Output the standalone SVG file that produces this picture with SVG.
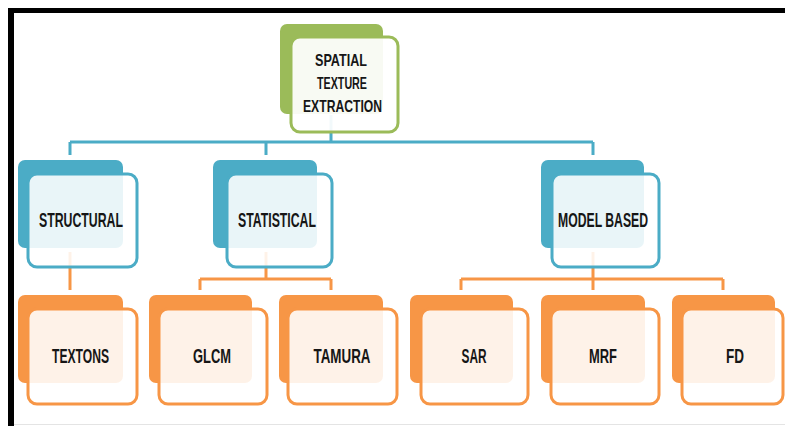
<svg xmlns="http://www.w3.org/2000/svg" width="785" height="426" viewBox="0 0 785 426">
  <style>
    .t { font-family: "Liberation Sans", Arial, sans-serif; font-weight: bold; fill: #161616; text-anchor: middle; }
    .lvl { font-size: 19.5px; }
    .root { font-size: 16.5px; }
    .bb { fill: #4bacc6; }
    .bf { fill: #ffffff; fill-opacity: 0.88; stroke: #4bacc6; stroke-width: 3; }
    .ob { fill: #f79646; }
    .of { fill: #ffffff; fill-opacity: 0.88; stroke: #f79646; stroke-width: 3; }
    .gb { fill: #9bbb59; }
    .gf { fill: #ffffff; fill-opacity: 0.93; stroke: #9bbb59; stroke-width: 3; }
    .cb { fill: none; stroke: #4bacc6; stroke-width: 3; }
    .co { fill: none; stroke: #f79646; stroke-width: 3; }
  </style>
  <rect x="0" y="0" width="785" height="426" fill="#ffffff"/>
  <!-- frame -->
  <rect x="8" y="8" width="777" height="5" fill="#000000"/>
  <rect x="8" y="8" width="6" height="418" fill="#000000"/>
  <line x1="14" y1="424.5" x2="785" y2="424.5" stroke="#e4e4e4" stroke-width="1"/>

  <g id="connectors">
    <path class="cb" d="M331 115 V142 M70 142 H593 M70 142 V155 M266 142 V155 M593 142 V155"/>
    <path class="co" d="M70 252 V290"/>
    <path class="co" d="M266 252 V279 M200 279 H331 M200 279 V290 M331 279 V290"/>
    <path class="co" d="M593 252 V279 M461 279 H723 M461 279 V290 M593 279 V290 M723 279 V290"/>
  </g>

  <g id="root">
    <rect class="gb" x="280" y="24" width="103" height="90" rx="7"/>
    <rect class="gf" x="291" y="37" width="107" height="95" rx="9"/>
    <text class="t root" x="341" y="65.5" textLength="52" lengthAdjust="spacingAndGlyphs">SPATIAL</text>
    <text class="t root" x="342" y="88.5" textLength="50" lengthAdjust="spacingAndGlyphs">TEXTURE</text>
    <text class="t root" x="342.5" y="112" textLength="79" lengthAdjust="spacingAndGlyphs">EXTRACTION</text>
  </g>

  <g id="structural">
    <rect class="bb" x="18" y="160" width="105" height="88" rx="7"/>
    <rect class="bf" x="28" y="174" width="109" height="93" rx="9"/>
    <text class="t lvl" x="81" y="226.5" textLength="84" lengthAdjust="spacingAndGlyphs">STRUCTURAL</text>
  </g>
  <g id="statistical">
    <rect class="bb" x="213" y="160" width="104" height="88" rx="7"/>
    <rect class="bf" x="227" y="174" width="105" height="93" rx="9"/>
    <text class="t lvl" x="277" y="226.5" textLength="78" lengthAdjust="spacingAndGlyphs">STATISTICAL</text>
  </g>
  <g id="model-based">
    <rect class="bb" x="541" y="160" width="103" height="88" rx="7"/>
    <rect class="bf" x="552" y="174" width="107" height="93" rx="9"/>
    <text class="t lvl" x="603" y="226.5" textLength="90" lengthAdjust="spacingAndGlyphs">MODEL BASED</text>
  </g>

  <g id="textons">
    <rect class="ob" x="18" y="295" width="105" height="88" rx="7"/>
    <rect class="of" x="28" y="309" width="109" height="95" rx="9"/>
    <text class="t lvl" x="80.5" y="362.5" textLength="57" lengthAdjust="spacingAndGlyphs">TEXTONS</text>
  </g>
  <g id="glcm">
    <rect class="ob" x="149" y="295" width="103" height="88" rx="7"/>
    <rect class="of" x="159" y="309" width="108" height="95" rx="9"/>
    <text class="t lvl" x="212" y="362.5" textLength="38" lengthAdjust="spacingAndGlyphs">GLCM</text>
  </g>
  <g id="tamura">
    <rect class="ob" x="279" y="295" width="104" height="88" rx="7"/>
    <rect class="of" x="288" y="309" width="109" height="95" rx="9"/>
    <text class="t lvl" x="342" y="362.5" textLength="57" lengthAdjust="spacingAndGlyphs">TAMURA</text>
  </g>
  <g id="sar">
    <rect class="ob" x="410" y="295" width="103" height="88" rx="7"/>
    <rect class="of" x="421" y="309" width="107" height="95" rx="9"/>
    <text class="t lvl" x="474" y="362.5" textLength="25" lengthAdjust="spacingAndGlyphs">SAR</text>
  </g>
  <g id="mrf">
    <rect class="ob" x="541" y="295" width="104" height="88" rx="7"/>
    <rect class="of" x="551" y="309" width="108" height="95" rx="9"/>
    <text class="t lvl" x="603" y="362.5" textLength="28" lengthAdjust="spacingAndGlyphs">MRF</text>
  </g>
  <g id="fd">
    <rect class="ob" x="672" y="295" width="103" height="88" rx="7"/>
    <rect class="of" x="682" y="309" width="101" height="95" rx="9"/>
    <text class="t lvl" x="735" y="362.5" textLength="18" lengthAdjust="spacingAndGlyphs">FD</text>
  </g>
</svg>
